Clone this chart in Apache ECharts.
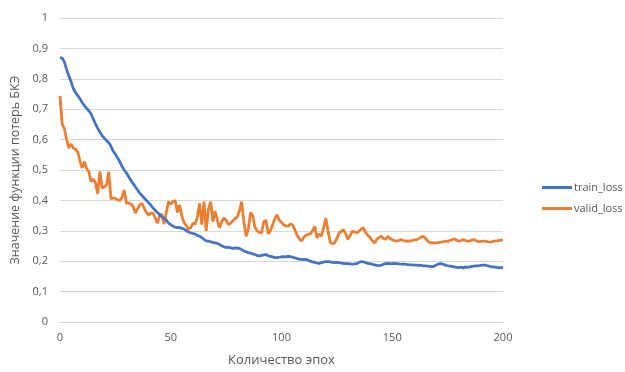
<!DOCTYPE html>
<html>
<head>
<meta charset="utf-8">
<script src="https://cdn.jsdelivr.net/npm/echarts@6/dist/echarts.min.js"></script>
<style>html,body{margin:0;padding:0;background:#fff}#c{width:625px;height:372px}</style>
</head>
<body>
<div id="c"></div>
<script>
var seriesNames = ['train_loss', 'valid_loss'];
var xTicks = [0, 50, 100, 150, 200];
var yTicks = [0, 0.1, 0.2, 0.3, 0.4, 0.5, 0.6, 0.7, 0.8, 0.9, 1];
var trainLoss = [
0.870,0.868,0.855,0.830,0.810,0.790,0.768,0.755,0.745,0.735,
0.722,0.712,0.703,0.695,0.685,0.668,0.652,0.638,0.625,0.613,
0.605,0.597,0.590,0.578,0.562,0.552,0.540,0.527,0.512,0.500,
0.490,0.478,0.466,0.455,0.445,0.434,0.424,0.416,0.408,0.400,
0.392,0.385,0.375,0.367,0.360,0.353,0.346,0.340,0.335,0.325,
0.320,0.315,0.312,0.310,0.311,0.308,0.306,0.300,0.296,0.293,
0.291,0.289,0.285,0.282,0.278,0.272,0.267,0.266,0.264,0.262,
0.260,0.259,0.255,0.251,0.247,0.245,0.246,0.244,0.242,0.244,
0.243,0.242,0.238,0.234,0.231,0.228,0.227,0.224,0.222,0.219,
0.217,0.219,0.221,0.222,0.218,0.216,0.214,0.212,0.212,0.213,
0.214,0.215,0.214,0.216,0.215,0.213,0.211,0.209,0.207,0.206,
0.205,0.206,0.203,0.200,0.198,0.196,0.194,0.193,0.195,0.197,
0.199,0.199,0.198,0.196,0.195,0.196,0.195,0.194,0.193,0.192,
0.192,0.191,0.190,0.191,0.192,0.196,0.199,0.198,0.195,0.193,
0.192,0.190,0.188,0.186,0.185,0.187,0.190,0.192,0.193,0.192,
0.192,0.193,0.192,0.191,0.190,0.191,0.190,0.189,0.188,0.188,
0.187,0.187,0.186,0.186,0.185,0.185,0.184,0.183,0.182,0.184,
0.188,0.191,0.192,0.190,0.187,0.185,0.184,0.183,0.181,0.180,
0.179,0.181,0.178,0.181,0.180,0.181,0.183,0.184,0.185,0.185,
0.186,0.187,0.187,0.185,0.183,0.181,0.181,0.180,0.179,0.179,
0.179];
var validLoss = [
0.744,0.650,0.635,0.600,0.572,0.586,0.572,0.568,0.560,0.530,
0.507,0.527,0.505,0.495,0.462,0.470,0.458,0.422,0.495,0.440,
0.445,0.450,0.494,0.405,0.408,0.407,0.402,0.400,0.410,0.434,
0.390,0.392,0.388,0.380,0.358,0.372,0.385,0.390,0.375,0.360,
0.352,0.358,0.358,0.342,0.325,0.350,0.355,0.322,0.360,0.396,
0.388,0.397,0.400,0.360,0.385,0.350,0.326,0.318,0.305,0.310,
0.325,0.322,0.345,0.390,0.320,0.396,0.300,0.370,0.396,0.330,
0.365,0.335,0.310,0.330,0.342,0.335,0.320,0.325,0.332,0.340,
0.345,0.365,0.396,0.330,0.282,0.305,0.360,0.350,0.312,0.300,
0.295,0.293,0.330,0.335,0.290,0.300,0.320,0.340,0.353,0.335,
0.328,0.320,0.316,0.315,0.322,0.320,0.304,0.285,0.275,0.266,
0.278,0.285,0.288,0.290,0.300,0.315,0.277,0.290,0.282,0.310,
0.342,0.300,0.262,0.258,0.260,0.275,0.293,0.298,0.304,0.290,
0.272,0.285,0.299,0.296,0.293,0.299,0.306,0.310,0.294,0.285,
0.277,0.268,0.260,0.272,0.278,0.282,0.275,0.272,0.282,0.275,
0.270,0.268,0.266,0.268,0.271,0.268,0.266,0.267,0.266,0.268,
0.270,0.271,0.275,0.279,0.282,0.276,0.266,0.260,0.261,0.260,
0.260,0.262,0.263,0.264,0.266,0.265,0.268,0.271,0.274,0.270,
0.266,0.268,0.271,0.268,0.266,0.266,0.270,0.271,0.267,0.264,
0.265,0.266,0.266,0.264,0.263,0.264,0.266,0.267,0.268,0.269,
0.270];

function pairs(arr){ return arr.map(function(v,i){ return [i, v]; }); }
var FONT = '"Open Sans", "Noto Sans", sans-serif';
var chart = echarts.init(document.getElementById('c'), null, {renderer:'canvas'});
chart.setOption({
  animation: false,
  backgroundColor: '#ffffff',
  grid: {left: 60, right: 122, top: 18, bottom: 47, containLabel: false},
  legend: {
    orient: 'vertical', left: 537, top: 177, itemGap: 10,
    itemWidth: 30, itemHeight: 3, icon: 'rect',
    textStyle: {color: '#595959', fontSize: 11, fontFamily: FONT, padding: [0,0,0,-3]},
    data: seriesNames
  },
  xAxis: {
    type: 'value', min: xTicks[0], max: xTicks[xTicks.length-1], interval: 50,
    name: 'Количество эпох', nameLocation: 'middle', nameGap: 32,
    nameTextStyle: {color: '#595959', fontSize: 13, fontFamily: FONT},
    axisLine: {show: true, lineStyle: {color: '#d9d9d9', width: 1}},
    axisTick: {show: false},
    splitLine: {show: false},
    axisLabel: {color: '#595959', fontSize: 11, fontFamily: FONT, margin: 10}
  },
  yAxis: {
    type: 'value', min: yTicks[0], max: yTicks[yTicks.length-1], interval: 0.1,
    name: 'Значение функции потерь БКЭ', nameLocation: 'middle', nameGap: 37,
    nameTextStyle: {color: '#595959', fontSize: 12.5, fontFamily: FONT},
    axisLine: {show: false}, axisTick: {show: false},
    splitLine: {show: true, lineStyle: {color: '#d9d9d9', width: 1}},
    axisLabel: {color: '#595959', fontSize: 11, fontFamily: FONT, margin: 12,
      formatter: function(v){ return String(Math.round(v*10)/10).replace('.', ','); }}
  },
  series: [
    {name: seriesNames[0], type: 'line', data: pairs(trainLoss), symbol: 'none',
     lineStyle: {color: '#4472C4', width: 2.75}, itemStyle: {color: '#4472C4'}, z: 3},
    {name: seriesNames[1], type: 'line', data: pairs(validLoss), symbol: 'none',
     lineStyle: {color: '#ED7D31', width: 2.75}, itemStyle: {color: '#ED7D31'}, z: 2}
  ]
});
</script>
</body>
</html>
